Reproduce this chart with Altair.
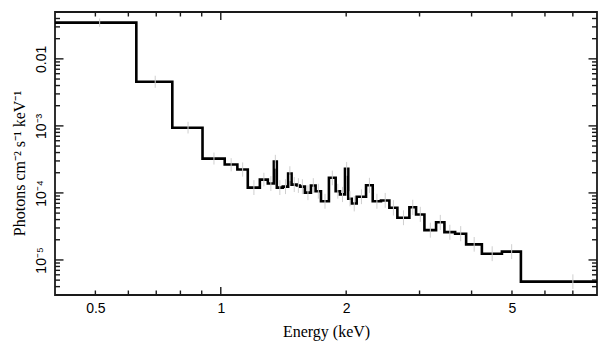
import altair as alt
import pandas as pd

# ---- data (energy bin edges in keV, flux in photons/cm2/s/keV)
bin_edges = [0.397, 0.627, 0.765, 0.904, 1.022, 1.096, 1.161, 1.241, 1.297, 1.341,
             1.363, 1.409, 1.451, 1.479, 1.523, 1.548, 1.592, 1.646, 1.689, 1.740,
             1.818, 1.887, 1.932, 1.987, 2.023, 2.062, 2.120, 2.232, 2.316, 2.424,
             2.539, 2.654, 2.836, 2.943, 3.082, 3.287, 3.442, 3.652, 3.881, 4.234,
             4.730, 5.253, 8.75]
flux = [3.47e-2, 4.55e-3, 9.4e-4, 3.25e-4, 2.65e-4, 2.23e-4, 1.20e-4, 1.58e-4, 1.38e-4,
        2.93e-4, 1.20e-4, 1.24e-4, 1.95e-4, 1.33e-4, 1.29e-4, 1.24e-4, 1.01e-4, 1.29e-4,
        1.06e-4, 7.5e-5, 1.68e-4, 1.06e-4, 9.5e-5, 2.29e-4, 8.2e-5, 6.95e-5, 8.75e-5,
        1.30e-4, 7.5e-5, 7.7e-5, 6.0e-5, 4.26e-5, 6.12e-5, 4.77e-5, 2.79e-5, 3.66e-5,
        2.60e-5, 2.46e-5, 1.71e-5, 1.24e-5, 1.33e-5, 4.75e-6]
err_lo = [3.0e-2, 3.7e-3, 7.7e-4, 2.65e-4, 2.1e-4, 1.75e-4, 9.3e-5, 1.25e-4, 1.07e-4,
          2.3e-4, 9.3e-5, 9.6e-5, 1.5e-4, 1.03e-4, 1.0e-4, 9.6e-5, 7.8e-5, 1.0e-4,
          8.2e-5, 5.8e-5, 1.3e-4, 8.2e-5, 7.3e-5, 1.8e-4, 6.3e-5, 5.3e-5, 6.8e-5,
          1.0e-4, 5.8e-5, 6.0e-5, 4.6e-5, 3.3e-5, 4.7e-5, 3.7e-5, 2.15e-5, 2.8e-5,
          2.0e-5, 1.9e-5, 1.33e-5, 9.6e-6, 1.03e-5, 3.7e-6]
err_hi = [4.0e-2, 5.6e-3, 1.15e-3, 4.0e-4, 3.3e-4, 2.85e-4, 1.55e-4, 2.0e-4, 1.78e-4,
          3.7e-4, 1.55e-4, 1.6e-4, 2.5e-4, 1.72e-4, 1.66e-4, 1.6e-4, 1.3e-4, 1.66e-4,
          1.37e-4, 9.7e-5, 2.15e-4, 1.37e-4, 1.23e-4, 2.9e-4, 1.06e-4, 9.0e-5, 1.13e-4,
          1.68e-4, 9.7e-5, 1.0e-4, 7.8e-5, 5.5e-5, 7.9e-5, 6.2e-5, 3.6e-5, 4.7e-5,
          3.35e-5, 3.2e-5, 2.2e-5, 1.6e-5, 1.72e-5, 6.1e-6]

x_major_ticks = [1.0]
x_minor_ticks = [0.5, 0.6, 0.7, 0.8, 0.9, 2, 3, 4, 5, 6, 7]
x_label_values = [0.5, 1, 2, 5]
y_major_ticks = [1e-5, 1e-4, 1e-3, 1e-2]
y_minor_ticks = [4e-6, 5e-6, 6e-6, 7e-6, 8e-6, 9e-6,
                 2e-5, 3e-5, 4e-5, 5e-5, 6e-5, 7e-5, 8e-5, 9e-5,
                 2e-4, 3e-4, 4e-4, 5e-4, 6e-4, 7e-4, 8e-4, 9e-4,
                 2e-3, 3e-3, 4e-3, 5e-3, 6e-3, 7e-3, 8e-3, 9e-3,
                 2e-2, 3e-2, 4e-2]

# ---- layout
W, H = 542, 283
FRAME = "#1a1a1a"
xs = alt.Scale(type="log", domain=[0.4, 8.0], nice=False)
ys = alt.Scale(type="log", domain=[3e-6, 0.05], nice=False)

ylabel_expr = ("datum.value > 0.005 ? '0.01' : datum.value > 0.0005 ? '10⁻³' : "
               "datum.value > 0.00005 ? '10⁻⁴' : '10⁻⁵'")

X_AXIS = alt.Axis(
    values=x_label_values, format="~g", title="Energy (keV)",
    ticks=False, tickSize=0, domain=False, grid=False,
    labelFont="Liberation Sans", labelFontSize=14, labelColor="black",
    labelPadding=6, labelFlush=False,
    titleFont="Liberation Serif", titleFontSize=16, titleFontWeight="normal",
    titleColor="black", titlePadding=8)
Y_AXIS = alt.Axis(
    values=y_major_ticks, labelExpr=ylabel_expr, title="Photons cm⁻² s⁻¹ keV⁻¹",
    ticks=False, tickSize=0, domain=False, grid=False,
    labelAngle=270, labelAlign="center", labelBaseline="bottom",
    labelFont="Liberation Sans", labelFontSize=14, labelColor="black",
    labelPadding=7, labelFlush=False,
    titleFont="Liberation Serif", titleFontSize=16, titleFontWeight="normal",
    titleColor="black", titlePadding=7, titleY=151)

step_df = pd.DataFrame({"E": bin_edges, "F": flux + [flux[-1]]})
err_df = pd.DataFrame({
    "E": [(a + b) / 2 for a, b in zip(bin_edges[:-1], bin_edges[1:])],
    "lo": err_lo,
    "hi": err_hi,
})

errbars = alt.Chart(err_df).mark_rule(color="#cfcfcf", strokeWidth=1, clip=True).encode(
    x=alt.X("E:Q", scale=xs, axis=X_AXIS),
    y=alt.Y("lo:Q", scale=ys, axis=Y_AXIS),
    y2="hi:Q",
)

step = alt.Chart(step_df).mark_line(
    interpolate="step-after", color="black", strokeWidth=2.6, clip=True
).encode(
    x=alt.X("E:Q", scale=xs, axis=X_AXIS),
    y=alt.Y("F:Q", scale=ys, axis=Y_AXIS),
)


def xticks(vals, length):
    df = pd.DataFrame({"E": vals})
    bottom = alt.Chart(df).mark_rule(color=FRAME, strokeWidth=1.4).encode(
        x=alt.X("E:Q", scale=xs, axis=X_AXIS), y=alt.value(H), y2=alt.value(H - length))
    top = alt.Chart(df).mark_rule(color=FRAME, strokeWidth=1.4).encode(
        x=alt.X("E:Q", scale=xs, axis=X_AXIS), y=alt.value(0), y2=alt.value(length))
    return [bottom, top]


def yticks(vals, length):
    df = pd.DataFrame({"F": vals})
    left = alt.Chart(df).mark_rule(color=FRAME, strokeWidth=1.4).encode(
        y=alt.Y("F:Q", scale=ys, axis=Y_AXIS), x=alt.value(0), x2=alt.value(length))
    right = alt.Chart(df).mark_rule(color=FRAME, strokeWidth=1.4).encode(
        y=alt.Y("F:Q", scale=ys, axis=Y_AXIS), x=alt.value(W), x2=alt.value(W - length))
    return [left, right]


layers = [step, errbars]
layers += xticks(x_minor_ticks, 4.5) + xticks(x_major_ticks, 8)
layers += yticks(y_minor_ticks, 5) + yticks(y_major_ticks, 8.5)

chart = alt.layer(*layers).properties(
    width=W, height=H,
    autosize=alt.AutoSizeParams(type="none"),
    padding={"left": 55, "top": 12, "right": 12, "bottom": 62},
    background="white",
).configure_view(stroke=FRAME, strokeWidth=1.8)

chart.save("out.html", embed_options={"renderer": "svg", "actions": False})
